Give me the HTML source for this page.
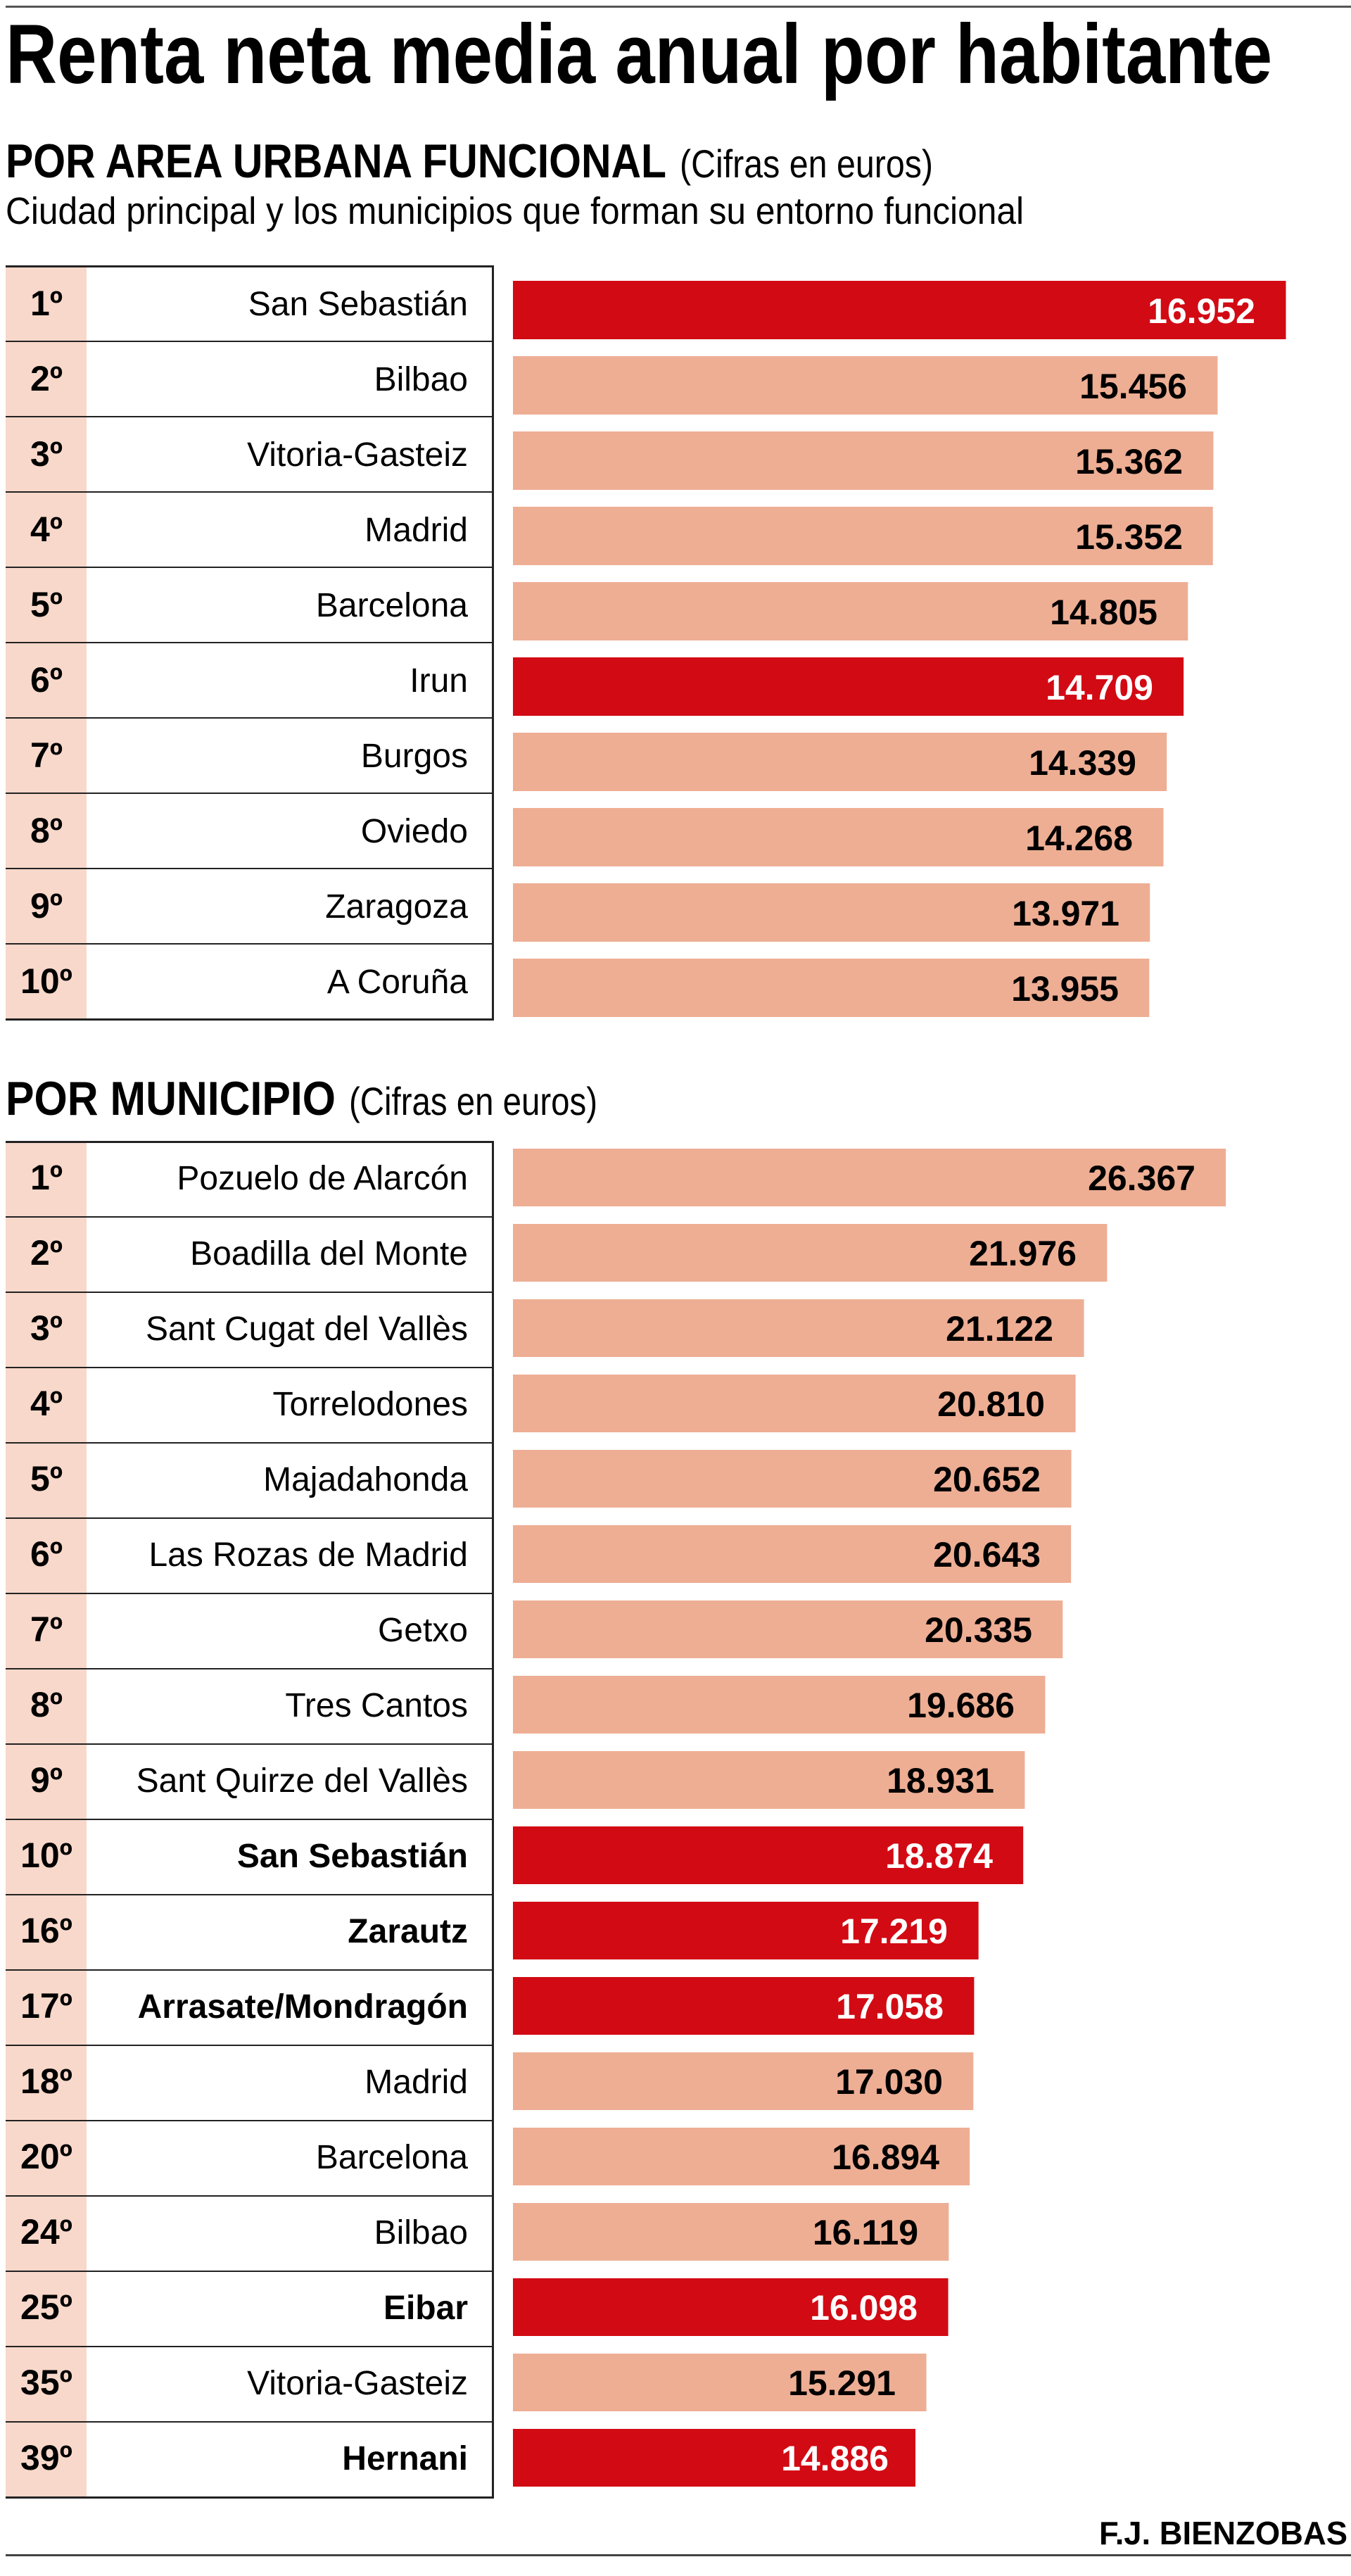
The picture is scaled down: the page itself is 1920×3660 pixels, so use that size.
<!DOCTYPE html>
<html><head><meta charset="utf-8"><style>html,body{margin:0;padding:0;background:#fff}svg{display:block}</style></head><body>
<svg width="1920" height="3660" viewBox="0 0 1920 3660" xmlns="http://www.w3.org/2000/svg" font-family="'Liberation Sans', sans-serif">
<rect x="8" y="8" width="1912" height="3" fill="#555"/>
<text x="8" y="118" font-size="120" font-weight="bold" textLength="1800" lengthAdjust="spacingAndGlyphs">Renta neta media anual por habitante</text>
<text x="8" y="252" font-size="68" font-weight="bold" textLength="939" lengthAdjust="spacingAndGlyphs">POR AREA URBANA FUNCIONAL</text>
<text x="966" y="252" font-size="56" textLength="360" lengthAdjust="spacingAndGlyphs">(Cifras en euros)</text>
<text x="8" y="318" font-size="54" textLength="1447" lengthAdjust="spacingAndGlyphs">Ciudad principal y los municipios que forman su entorno funcional</text>

<!-- Section 1 -->
<rect x="8" y="378" width="115" height="1070" fill="#f8d8ca"/>
<g fill="#222">
<rect x="8" y="377" width="694" height="3"/>
<rect x="8" y="484" width="692" height="2"/><rect x="8" y="591" width="692" height="2"/><rect x="8" y="698" width="692" height="2"/><rect x="8" y="805" width="692" height="2"/><rect x="8" y="912" width="692" height="2"/><rect x="8" y="1019" width="692" height="2"/><rect x="8" y="1126" width="692" height="2"/><rect x="8" y="1233" width="692" height="2"/><rect x="8" y="1340" width="692" height="2"/>
<rect x="8" y="1447" width="694" height="3"/>
<rect x="699" y="377" width="3" height="1073"/>
</g>
<g transform="translate(729 0) scale(0.995 1) translate(-729 0)">
<rect x="729" y="399" width="1104" height="83" fill="#d20a14"/>
<rect x="729" y="506" width="1006.5" height="83" fill="#eeae94"/>
<rect x="729" y="613" width="1000.4" height="83" fill="#eeae94"/>
<rect x="729" y="720" width="999.7" height="83" fill="#eeae94"/>
<rect x="729" y="827" width="964.1" height="83" fill="#eeae94"/>
<rect x="729" y="934" width="957.9" height="83" fill="#d20a14"/>
<rect x="729" y="1041" width="933.8" height="83" fill="#eeae94"/>
<rect x="729" y="1148" width="929.1" height="83" fill="#eeae94"/>
<rect x="729" y="1255" width="909.8" height="83" fill="#eeae94"/>
<rect x="729" y="1362" width="908.8" height="83" fill="#eeae94"/>
</g>
<g font-size="50" font-weight="bold" text-anchor="middle">
<text x="66" y="448">1º</text><text x="66" y="555">2º</text><text x="66" y="662">3º</text><text x="66" y="769">4º</text><text x="66" y="876">5º</text><text x="66" y="983">6º</text><text x="66" y="1090">7º</text><text x="66" y="1197">8º</text><text x="66" y="1304">9º</text><text x="66" y="1411">10º</text>
</g>
<g font-size="48" text-anchor="end">
<text x="665" y="448">San Sebastián</text><text x="665" y="555">Bilbao</text><text x="665" y="662">Vitoria-Gasteiz</text><text x="665" y="769">Madrid</text><text x="665" y="876">Barcelona</text><text x="665" y="983">Irun</text><text x="665" y="1090">Burgos</text><text x="665" y="1197">Oviedo</text><text x="665" y="1304">Zaragoza</text><text x="665" y="1411">A Coruña</text>
</g>
<g font-size="50" font-weight="bold" text-anchor="end">
<text x="1784" y="459" fill="#fff">16.952</text>
<text x="1687" y="566">15.456</text>
<text x="1681" y="673">15.362</text>
<text x="1681" y="780">15.352</text>
<text x="1645" y="887">14.805</text>
<text x="1639" y="994" fill="#fff">14.709</text>
<text x="1615" y="1101">14.339</text>
<text x="1610" y="1208">14.268</text>
<text x="1591" y="1315">13.971</text>
<text x="1590" y="1422">13.955</text>
</g>

<!-- Section 2 -->
<text x="8" y="1584" font-size="68" font-weight="bold" textLength="469" lengthAdjust="spacingAndGlyphs">POR MUNICIPIO</text>
<text x="496" y="1584" font-size="56" textLength="353" lengthAdjust="spacingAndGlyphs">(Cifras en euros)</text>
<rect x="8" y="1622" width="115" height="1926" fill="#f8d8ca"/>
<g fill="#222">
<rect x="8" y="1621" width="694" height="3"/>
<rect x="8" y="1728" width="692" height="2"/><rect x="8" y="1835" width="692" height="2"/><rect x="8" y="1942" width="692" height="2"/><rect x="8" y="2049" width="692" height="2"/><rect x="8" y="2156" width="692" height="2"/><rect x="8" y="2263" width="692" height="2"/><rect x="8" y="2370" width="692" height="2"/><rect x="8" y="2477" width="692" height="2"/><rect x="8" y="2584" width="692" height="2"/><rect x="8" y="2691" width="692" height="2"/><rect x="8" y="2798" width="692" height="2"/><rect x="8" y="2905" width="692" height="2"/><rect x="8" y="3012" width="692" height="2"/><rect x="8" y="3119" width="692" height="2"/><rect x="8" y="3226" width="692" height="2"/><rect x="8" y="3333" width="692" height="2"/><rect x="8" y="3440" width="692" height="2"/>
<rect x="8" y="3547" width="694" height="3"/>
<rect x="699" y="1621" width="3" height="1929"/>
</g>
<g transform="translate(729 0) scale(1.004 1) translate(-729 0)">
<rect x="729" y="1632" width="1009.1" height="82" fill="#eeae94"/>
<rect x="729" y="1739" width="841" height="82" fill="#eeae94"/>
<rect x="729" y="1846" width="808.3" height="82" fill="#eeae94"/>
<rect x="729" y="1953" width="796.4" height="82" fill="#eeae94"/>
<rect x="729" y="2060" width="790.4" height="82" fill="#eeae94"/>
<rect x="729" y="2167" width="790" height="82" fill="#eeae94"/>
<rect x="729" y="2274" width="778.2" height="82" fill="#eeae94"/>
<rect x="729" y="2381" width="753.4" height="82" fill="#eeae94"/>
<rect x="729" y="2488" width="724.5" height="82" fill="#eeae94"/>
<rect x="729" y="2595" width="722.3" height="82" fill="#d20a14"/>
<rect x="729" y="2702" width="659" height="82" fill="#d20a14"/>
<rect x="729" y="2809" width="652.8" height="82" fill="#d20a14"/>
<rect x="729" y="2916" width="651.7" height="82" fill="#eeae94"/>
<rect x="729" y="3023" width="646.5" height="82" fill="#eeae94"/>
<rect x="729" y="3130" width="616.9" height="82" fill="#eeae94"/>
<rect x="729" y="3237" width="616.1" height="82" fill="#d20a14"/>
<rect x="729" y="3344" width="585.2" height="82" fill="#eeae94"/>
<rect x="729" y="3451" width="569.7" height="82" fill="#d20a14"/>
</g>
<g font-size="50" font-weight="bold" text-anchor="middle">
<text x="66" y="1690">1º</text><text x="66" y="1797">2º</text><text x="66" y="1904">3º</text><text x="66" y="2011">4º</text><text x="66" y="2118">5º</text><text x="66" y="2225">6º</text><text x="66" y="2332">7º</text><text x="66" y="2439">8º</text><text x="66" y="2546">9º</text><text x="66" y="2653">10º</text><text x="66" y="2760">16º</text><text x="66" y="2867">17º</text><text x="66" y="2974">18º</text><text x="66" y="3081">20º</text><text x="66" y="3188">24º</text><text x="66" y="3295">25º</text><text x="66" y="3402">35º</text><text x="66" y="3509">39º</text>
</g>
<g font-size="48" text-anchor="end">
<text x="665" y="1690">Pozuelo de Alarcón</text><text x="665" y="1797">Boadilla del Monte</text><text x="665" y="1904">Sant Cugat del Vallès</text><text x="665" y="2011">Torrelodones</text><text x="665" y="2118">Majadahonda</text><text x="665" y="2225">Las Rozas de Madrid</text><text x="665" y="2332">Getxo</text><text x="665" y="2439">Tres Cantos</text><text x="665" y="2546">Sant Quirze del Vallès</text>
<text x="665" y="2653" font-weight="bold">San Sebastián</text><text x="665" y="2760" font-weight="bold">Zarautz</text><text x="665" y="2867" font-weight="bold">Arrasate/Mondragón</text>
<text x="665" y="2974">Madrid</text><text x="665" y="3081">Barcelona</text><text x="665" y="3188">Bilbao</text>
<text x="665" y="3295" font-weight="bold">Eibar</text><text x="665" y="3402">Vitoria-Gasteiz</text><text x="665" y="3509" font-weight="bold">Hernani</text>
</g>
<g font-size="50" font-weight="bold" text-anchor="end">
<text x="1699" y="1691">26.367</text>
<text x="1530" y="1798">21.976</text>
<text x="1497" y="1905">21.122</text>
<text x="1485" y="2012">20.810</text>
<text x="1479" y="2119">20.652</text>
<text x="1479" y="2226">20.643</text>
<text x="1467" y="2333">20.335</text>
<text x="1442" y="2440">19.686</text>
<text x="1413" y="2547">18.931</text>
<text x="1411" y="2654" fill="#fff">18.874</text>
<text x="1347" y="2761" fill="#fff">17.219</text>
<text x="1341" y="2868" fill="#fff">17.058</text>
<text x="1340" y="2975">17.030</text>
<text x="1335" y="3082">16.894</text>
<text x="1305" y="3189">16.119</text>
<text x="1304" y="3296" fill="#fff">16.098</text>
<text x="1273" y="3403">15.291</text>
<text x="1263" y="3510" fill="#fff">14.886</text>
</g>

<text x="1562" y="3615" font-size="46" font-weight="bold" textLength="353" lengthAdjust="spacingAndGlyphs">F.J. BIENZOBAS</text>
<rect x="8" y="3629" width="1912" height="3" fill="#444"/>
</svg>
</body></html>
